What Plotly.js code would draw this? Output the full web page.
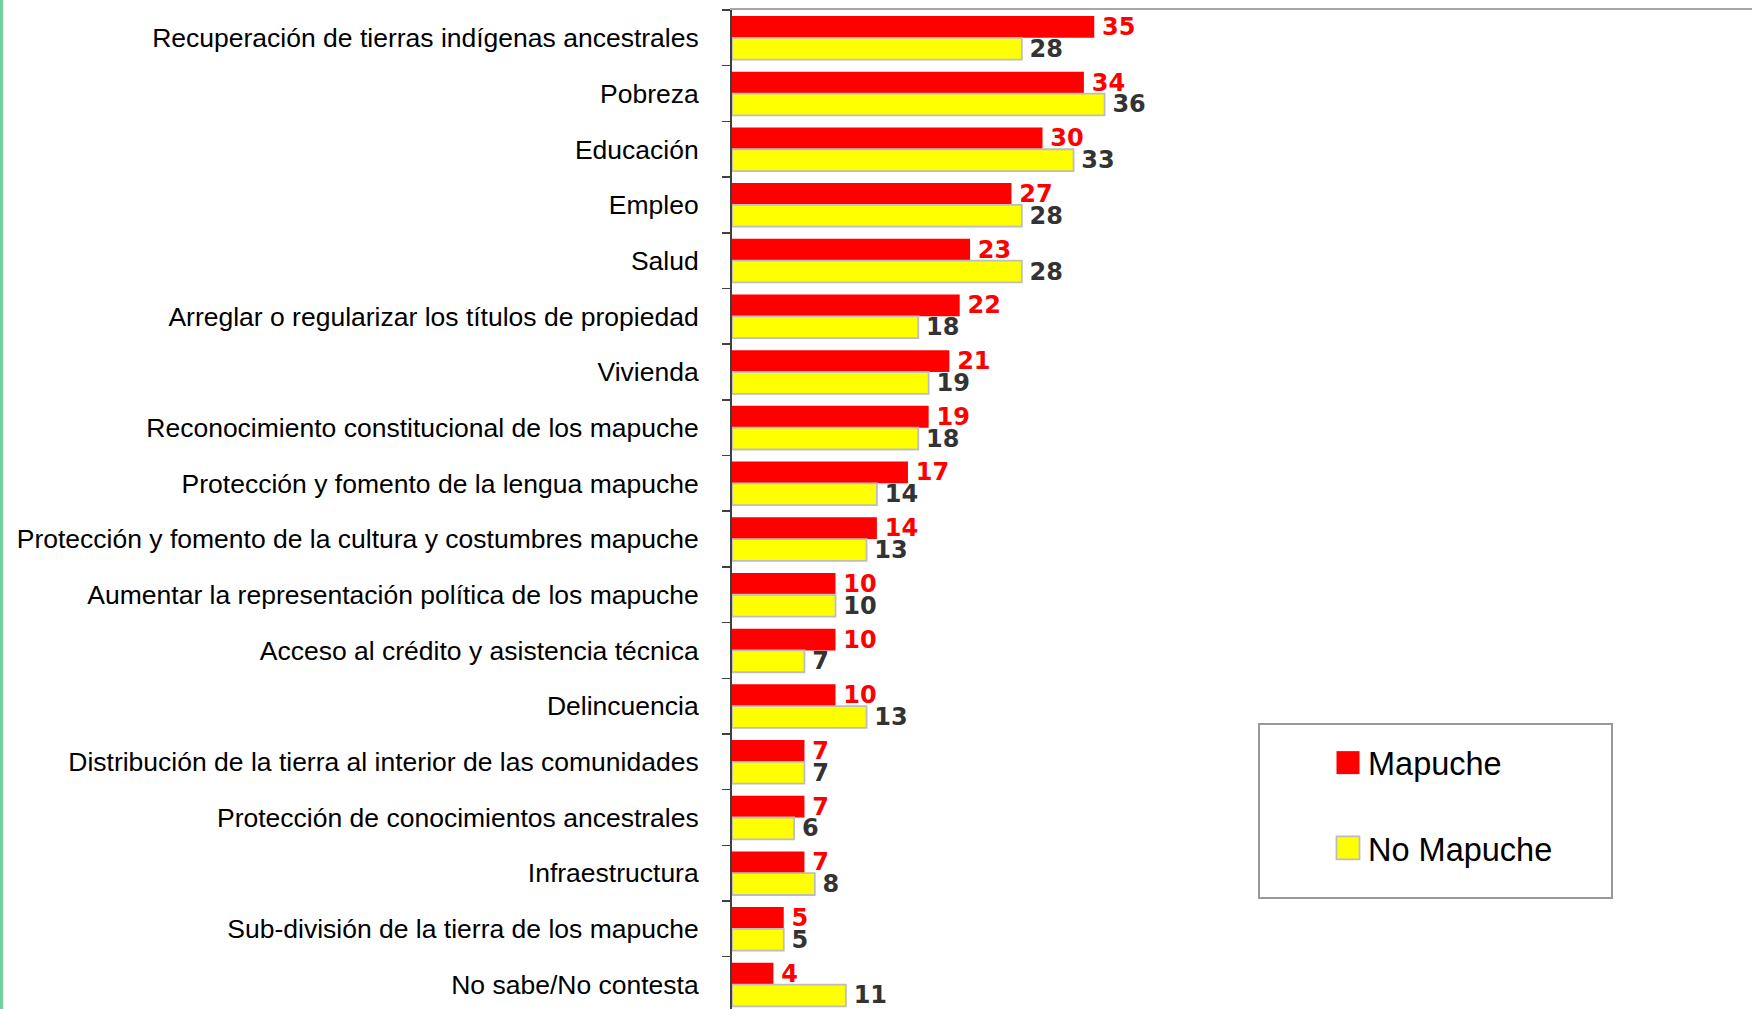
<!DOCTYPE html>
<html><head><meta charset="utf-8">
<script src="https://cdn.plot.ly/plotly-3.0.1.min.js"></script>
<style>html,body{margin:0;padding:0;background:#fff}#chart{width:1752px;height:1009px}</style>
</head><body><div id="chart"></div>
<script>
const categories = [
  'Recuperación de tierras indígenas ancestrales',
  'Pobreza',
  'Educación',
  'Empleo',
  'Salud',
  'Arreglar o regularizar los títulos de propiedad',
  'Vivienda',
  'Reconocimiento constitucional de los mapuche',
  'Protección y fomento de la lengua mapuche',
  'Protección y fomento de la cultura y costumbres mapuche',
  'Aumentar la representación política de los mapuche',
  'Acceso al crédito y asistencia técnica',
  'Delincuencia',
  'Distribución de la tierra al interior de las comunidades',
  'Protección de conocimientos ancestrales',
  'Infraestructura',
  'Sub-división de la tierra de los mapuche',
  'No sabe/No contesta'
];
const mapuche   = [35,34,30,27,23,22,21,19,17,14,10,10,10,7,7,7,5,4];
const noMapuche = [28,36,33,28,28,18,19,18,14,13,10,7,13,7,6,8,5,11];
const seriesNames = ['Mapuche','No Mapuche'];

const W = 1752, H = 1009, L = 732, T = 10;
const pxX = p => (p - L) / (W - L);
const pxY = p => 1 - (p - T) / (H - T);
const band = 55.69;
const nCat = categories.length;

const labelFont = 'DejaVu Sans, Verdana, sans-serif';

const traces = [
  {
    type: 'bar', orientation: 'h', name: seriesNames[0], legendgroup: 'a',
    y: categories, x: mapuche,
    marker: {color: '#ff0000', line: {width: 0}},
    text: mapuche, texttemplate: '\u2009%{x}', textposition: 'outside',
    textfont: {family: labelFont, size: 24, color: '#ff0000', weight: 'bold'},
    constraintext: 'none', cliponaxis: false, hoverinfo: 'none'
  },
  {
    type: 'bar', orientation: 'h', name: seriesNames[1], legendgroup: 'b',
    y: categories, x: noMapuche,
    marker: {color: '#ffff00', line: {width: 1.8, color: '#bdbdbd'}},
    text: noMapuche, texttemplate: '\u2009%{x}', textposition: 'outside',
    textfont: {family: labelFont, size: 24, color: '#333333', weight: 'bold'},
    constraintext: 'none', cliponaxis: false, hoverinfo: 'none'
  }
];

const layout = {
  width: W, height: H,
  margin: {l: L, r: 0, t: T, b: 0, pad: 0},
  paper_bgcolor: '#ffffff', plot_bgcolor: 'rgba(0,0,0,0)',
  barmode: 'group', bargap: 0.217, bargroupgap: 0,
  xaxis: {
    range: [0, (W - L) / 10.35], side: 'top', showline: true, linecolor: '#a6a6a6', linewidth: 2,
    showticklabels: false, ticks: '', showgrid: false, zeroline: false, fixedrange: true
  },
  yaxis: {
    type: 'category', range: [nCat - 0.5 - (T + band * nCat - H) / band, -0.5],
    showline: true, linecolor: '#404040', linewidth: 2,
    ticks: 'outside', tickson: 'boundaries', ticklen: 8, tickwidth: 1.5, tickcolor: '#404040',
    ticklabelstandoff: 26,
    tickfont: {family: 'Liberation Sans, Arial, sans-serif', size: 26.5, color: '#000000'},
    showgrid: false, zeroline: false, automargin: false, fixedrange: true
  },
  showlegend: true,
  legend: {
    x: pxX(1328), y: pxY(735), xanchor: 'left', yanchor: 'top',
    bgcolor: 'rgba(0,0,0,0)', borderwidth: 0,
    font: {family: 'Liberation Sans, Arial, sans-serif', size: 32.5, color: '#000000'},
    traceorder: 'grouped', tracegroupgap: 40
  },
  shapes: [
    {type: 'rect', xref: 'paper', yref: 'paper', x0: pxX(1259), x1: pxX(1612), y0: pxY(898), y1: pxY(724),
     line: {color: '#999999', width: 2}, fillcolor: '#ffffff', layer: 'below'},
    {type: 'line', xref: 'paper', yref: 'paper', x0: pxX(1.5), x1: pxX(1.5), y0: pxY(1015), y1: pxY(-5),
     line: {color: '#6fd39a', width: 3}}
  ]
};

Plotly.newPlot('chart', traces, layout, {displayModeBar: false, staticPlot: true}).then(gd => {
  gd.querySelectorAll('.legend .legendpoints path').forEach(p => {
    p.setAttribute('d', 'M11.5,11.5H-11.5V-11.5H11.5Z');
  });
});
</script>
</body></html>
